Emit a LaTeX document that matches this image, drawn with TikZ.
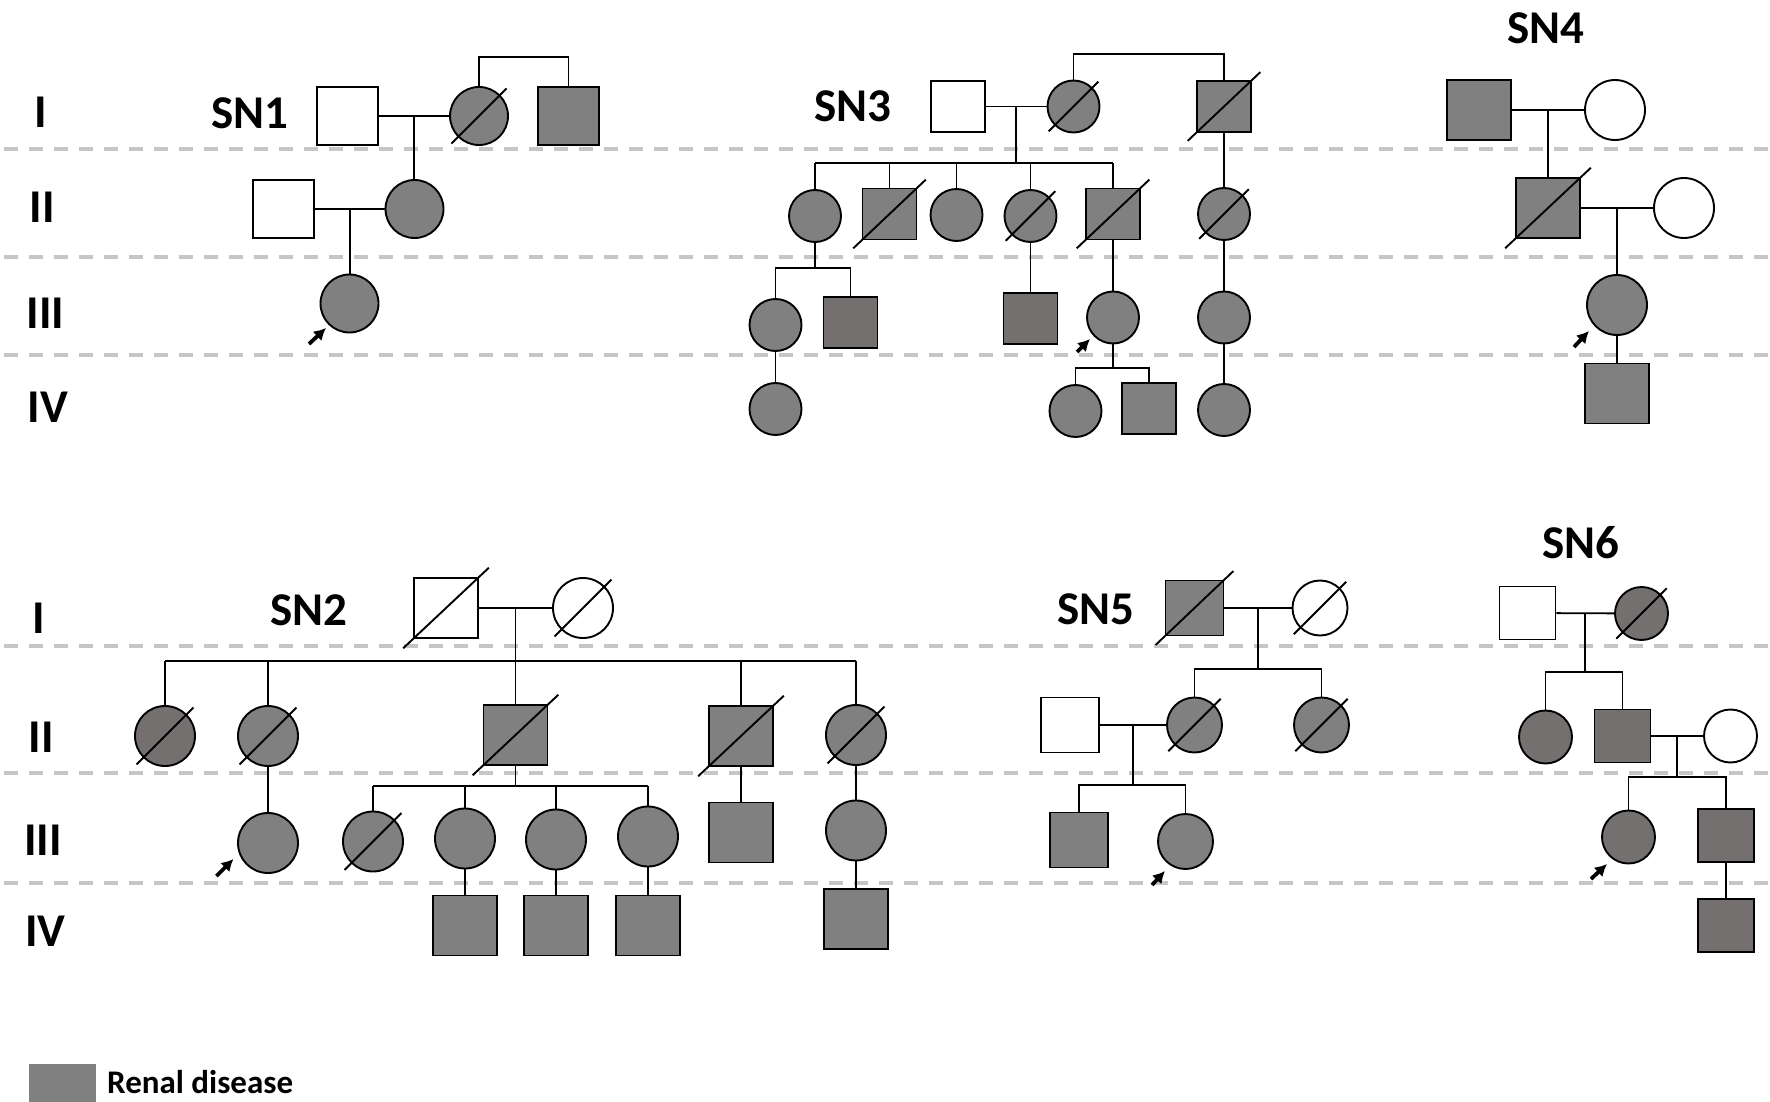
\documentclass[tikz,border=0pt]{standalone}
\usepackage{fontspec}
\setmainfont{Carlito}
\usetikzlibrary{arrows.meta,calc}
\definecolor{affgray}{RGB}{128,128,128}
\definecolor{affdark}{RGB}{117,112,112}
\definecolor{gengray}{RGB}{198,198,198}
\tikzset{
  male/.style={rectangle,draw,line width=1.9pt,inner sep=0pt},
  female/.style={circle,draw,line width=1.9pt,inner sep=0pt},
  aff/.style={fill=affgray},
  affd/.style={fill=affdark},
  line/.style={line width=1.8pt},
  genline/.style={gengray,line width=4.2pt,dash pattern=on 14pt off 11pt},
  gen/.style={inner sep=0pt,font=\bfseries\fontsize{47}{50}\selectfont},
  famlabel/.style={inner sep=0pt,font=\bfseries\fontsize{47}{50}\selectfont},
  keytext/.style={inner sep=0pt,font=\bfseries\fontsize{33}{36}\selectfont},
  pointer/.style={-{Latex[length=12pt,width=13pt]},line width=3.8pt},
}
\begin{document}
\begin{tikzpicture}[x=1pt,y=-1pt]
\useasboundingbox (0,0) rectangle (1770,1102);
% generation rows
\foreach \y in {149,257,355,646,773,883}
  \draw[genline] (4,\y) -- (1770,\y);
\node[gen] (g1) at (41,112) {I};
\node[gen] (g2) at (42.5,207) {II};
\node[gen] (g3) at (45.5,313) {III};
\node[gen] (g4) at (48,407) {IV};
\node[gen] (h1) at (38.5,618) {I};
\node[gen] (h2) at (41,737) {II};
\node[gen] (h3) at (43,840) {III};
\node[gen] (h4) at (45.5,931) {IV};

% SN1
\begin{scope}[male/.append style={minimum width=61pt,minimum height=58pt},
  female/.append style={minimum size=58pt}]
\node[famlabel] (sn1) at (250,113) {SN1};
\node[male] (p1i1) at (347.5,116) {};
\node[female,aff] (p1i2) at (479,116) {};
\node[male,aff] (p1i3) at (568.5,116) {};
\node[male] (p1ii1) at (283.5,209) {};
\node[female,aff] (p1ii2) at (414.5,209) {};
\node[female,aff] (p1iii1) at (349.5,303.5) {};
\coordinate (p1top) at (0,57);
\draw[line] (p1i2.north) -- (p1i2.north |- p1top) -| (p1i3.north);
\draw[line] (p1i1) -- (p1i2) coordinate[midway] (p1m1);
\draw[line] (p1m1) -- (p1m1 |- p1ii2.north);
\draw[line] (p1ii1) -- (p1ii2) coordinate[midway] (p1m2);
\draw[line] (p1m2) -- (p1m2 |- p1iii1.north);
\draw[pointer] ([shift={(-40.5,40.5)}]p1iii1.center) -- ([shift={(-23.5,24.5)}]p1iii1.center);
\end{scope}

% SN2
\begin{scope}[male/.append style={minimum width=64pt,minimum height=60pt},
  female/.append style={minimum size=60pt}]
\node[famlabel] (sn2) at (309,610) {SN2};
\node[male] (p2i1) at (446,608) {};
\node[female] (p2i2) at (583,608) {};
\node[female,affd] (p2ii1) at (165,736) {};
\node[female,aff] (p2ii2) at (268,736) {};
\node[male,aff] (p2ii3) at (515.5,735) {};
\node[male,aff] (p2ii4) at (741,736) {};
\node[female,aff] (p2ii5) at (856,735) {};
\node[female,aff] (p2iii1) at (268,843) {};
\node[female,aff] (p2iii2) at (373,841.5) {};
\node[female,aff] (p2iii3) at (465,838.5) {};
\node[female,aff] (p2iii4) at (556,839.5) {};
\node[female,aff] (p2iii5) at (648,836.5) {};
\node[male,aff] (p2iii6) at (741,832.5) {};
\node[female,aff] (p2iii7) at (856,830.5) {};
\node[male,aff] (p2iv1) at (465,925.5) {};
\node[male,aff] (p2iv2) at (556,925.5) {};
\node[male,aff] (p2iv3) at (648,925.5) {};
\node[male,aff] (p2iv4) at (856,919) {};
\coordinate (p2bar2) at (0,661);
\coordinate (p2bar3) at (0,786);
\draw[line] (p2i1) -- (p2i2) coordinate[midway] (p2m1);
\draw[line] (p2m1) -- (p2m1 |- p2bar2);
\draw[line] (p2ii1.north |- p2bar2) -- (p2ii5.north |- p2bar2);
\foreach \c in {p2ii1,p2ii2,p2ii3,p2ii4,p2ii5}
  \draw[line] (\c.north) -- (\c.north |- p2bar2);
\draw[line] (p2ii3.south) -- (p2ii3.south |- p2bar3);
\draw[line] (p2iii2.north |- p2bar3) -- (p2iii5.north |- p2bar3);
\foreach \c in {p2iii2,p2iii3,p2iii4,p2iii5}
  \draw[line] (\c.north) -- (\c.north |- p2bar3);
\draw[line] (p2ii2) -- (p2iii1);
\draw[line] (p2ii4) -- (p2iii6);
\draw[line] (p2ii5) -- (p2iii7);
\draw[line] (p2iii3) -- (p2iv1);
\draw[line] (p2iii4) -- (p2iv2);
\draw[line] (p2iii5) -- (p2iv3);
\draw[line] (p2iii7) -- (p2iv4);
\draw[pointer] ([shift={(-51.5,33)}]p2iii1.center) -- ([shift={(-34.5,16)}]p2iii1.center);
\end{scope}

% SN3
\begin{scope}[male/.append style={minimum width=54pt,minimum height=51pt},
  female/.append style={minimum size=52pt}]
\node[famlabel] (sn3) at (853,106) {SN3};
\node[male] (p3i1) at (958,106.5) {};
\node[female,aff] (p3i2) at (1073.5,106.5) {};
\node[male,aff] (p3i3) at (1224,106.5) {};
\node[female,aff] (p3ii1) at (815,216) {};
\node[male,aff] (p3ii2) at (889.5,214) {};
\node[female,aff] (p3ii3) at (956.5,215) {};
\node[female,aff] (p3ii4) at (1030.5,216) {};
\node[male,aff] (p3ii5) at (1113,214) {};
\node[female,aff] (p3ii6) at (1224,214) {};
\node[female,aff] (p3iii1) at (775.5,325) {};
\node[male,affd] (p3iii2) at (850.5,322.5) {};
\node[male,affd] (p3iii3) at (1030.5,318.5) {};
\node[female,aff] (p3iii4) at (1113,317.5) {};
\node[female,aff] (p3iii5) at (1224,317.5) {};
\node[female,aff] (p3iv1) at (775.5,409) {};
\node[female,aff] (p3iv2) at (1075.5,411) {};
\node[male,aff] (p3iv3) at (1149,408.5) {};
\node[female,aff] (p3iv4) at (1224,410) {};
\coordinate (p3top) at (0,54);
\coordinate (p3bar2) at (0,163);
\coordinate (p3bar3) at (0,268);
\coordinate (p3bar4) at (0,368);
\draw[line] (p3i2.north) -- (p3i2.north |- p3top) -| (p3i3.north);
\draw[line] (p3i1) -- (p3i2) coordinate[midway] (p3m1);
\draw[line] (p3m1) -- (p3m1 |- p3bar2);
\draw[line] (p3ii1.north |- p3bar2) -- (p3ii5.north |- p3bar2);
\foreach \c in {p3ii1,p3ii2,p3ii3,p3ii4,p3ii5}
  \draw[line] (\c.north) -- (\c.north |- p3bar2);
\draw[line] (p3i3) -- (p3ii6);
\draw[line] (p3ii1.south) -- (p3ii1.south |- p3bar3);
\draw[line] (p3iii1.north) |- (p3iii2.north |- p3bar3) -- (p3iii2.north);
\draw[line] (p3ii4) -- (p3iii3);
\draw[line] (p3ii5) -- (p3iii4);
\draw[line] (p3ii6) -- (p3iii5);
\draw[line] (p3iii1) -- (p3iv1);
\draw[line] (p3iii4.south) -- (p3iii4.south |- p3bar4);
\draw[line] (p3iv2.north) |- (p3iv3.north |- p3bar4) -- (p3iv3.north);
\draw[line] (p3iii5) -- (p3iv4);
\draw[pointer] ([shift={(-36,34.5)}]p3iii4.center) -- ([shift={(-23,21.5)}]p3iii4.center);
\end{scope}

% SN4
\begin{scope}[male/.append style={minimum width=64pt,minimum height=60pt},
  female/.append style={minimum size=60pt}]
\node[famlabel] (sn4) at (1545.5,28) {SN4};
\node[male,aff] (p4i1) at (1479,110) {};
\node[female] (p4i2) at (1615,110) {};
\node[male,aff] (p4ii1) at (1548,208) {};
\node[female] (p4ii2) at (1684,208) {};
\node[female,aff] (p4iii1) at (1617,305) {};
\node[male,aff] (p4iv1) at (1617,393.5) {};
\draw[line] (p4i1) -- (p4i2) coordinate[midway] (p4m1);
\draw[line] (p4m1) -- (p4m1 |- p4ii1.north);
\draw[line] (p4ii1) -- (p4ii2) coordinate[midway] (p4m2);
\draw[line] (p4m2) -- (p4m2 |- p4iii1.north);
\draw[line] (p4iii1) -- (p4iv1);
\draw[pointer] ([shift={(-43,42)}]p4iii1.center) -- ([shift={(-28,26)}]p4iii1.center);
\end{scope}

% SN5
\begin{scope}[male/.append style={minimum width=58pt,minimum height=55pt},
  female/.append style={minimum size=55pt}]
\node[famlabel] (sn5) at (1095.5,609) {SN5};
\node[male,aff] (p5i1) at (1194.5,608) {};
\node[female] (p5i2) at (1320,608) {};
\node[male] (p5ii1) at (1070,725) {};
\node[female,aff] (p5ii2) at (1194.5,725) {};
\node[female,aff] (p5ii3) at (1321.5,725) {};
\node[male,aff] (p5iii1) at (1079,840) {};
\node[female,aff] (p5iii2) at (1185.5,841.5) {};
\coordinate (p5bar2) at (0,669);
\coordinate (p5bar3) at (0,785);
\draw[line] (p5i1) -- (p5i2) coordinate[midway] (p5m1);
\draw[line] (p5m1) -- (p5m1 |- p5bar2);
\draw[line] (p5ii2.north) |- (p5ii3.north |- p5bar2) -- (p5ii3.north);
\draw[line] (p5ii1) -- (p5ii2) coordinate[midway] (p5m2);
\draw[line] (p5m2) -- (p5m2 |- p5bar3);
\draw[line] (p5iii1.north) |- (p5iii2.north |- p5bar3) -- (p5iii2.north);
\draw[pointer] ([shift={(-33.5,43.5)}]p5iii2.center) -- ([shift={(-20.5,29.5)}]p5iii2.center);
\end{scope}

% SN6
\begin{scope}[male/.append style={minimum width=56pt,minimum height=53pt},
  female/.append style={minimum size=53pt}]
\node[famlabel] (sn6) at (1580.5,543) {SN6};
\node[male] (p6i1) at (1527.5,613) {};
\node[female,affd] (p6i2) at (1641.5,613.5) {};
\node[female,affd] (p6ii1) at (1545.5,737) {};
\node[male,affd] (p6ii2) at (1622.5,736) {};
\node[female] (p6ii3) at (1730.5,736) {};
\node[female,affd] (p6iii1) at (1628.5,837) {};
\node[male,affd] (p6iii2) at (1726,835.5) {};
\node[male,affd] (p6iv1) at (1726,925.5) {};
\coordinate (p6bar2) at (0,672);
\coordinate (p6bar3) at (0,777);
\draw[line] (p6i1) -- (p6i2) coordinate[midway] (p6m1);
\draw[line] (p6m1) -- (p6m1 |- p6bar2);
\draw[line] (p6ii1.north) |- (p6ii2.north |- p6bar2) -- (p6ii2.north);
\draw[line] (p6ii2) -- (p6ii3) coordinate[midway] (p6m2);
\draw[line] (p6m2) -- (p6m2 |- p6bar3);
\draw[line] (p6iii1.north) |- (p6iii2.north |- p6bar3) -- (p6iii2.north);
\draw[line] (p6iii2) -- (p6iv1);
\draw[pointer] ([shift={(-37.5,42)}]p6iii1.center) -- ([shift={(-21.5,27)}]p6iii1.center);
\end{scope}

% deceased
\foreach \p in {p1i2,p2i1,p2i2,p2ii1,p2ii2,p2ii3,p2ii4,p2ii5,p2iii2,
  p3i2,p3i3,p3ii2,p3ii4,p3ii5,p3ii6,p4ii1,p5i1,p5i2,p5ii2,p5ii3,p6i2}
  \draw[line width=1.9pt] ($(\p.south west)!-0.15!(\p.north east)$) -- ($(\p.north east)!-0.15!(\p.south west)$);

% key
\node[fill=affgray,inner sep=0pt,minimum width=67pt,minimum height=40pt,anchor=north west] (key) at (29,1064) {};
\node[keytext,anchor=base west] (keylabel) at (107,1093) {Renal disease};
\end{tikzpicture}
\end{document}
